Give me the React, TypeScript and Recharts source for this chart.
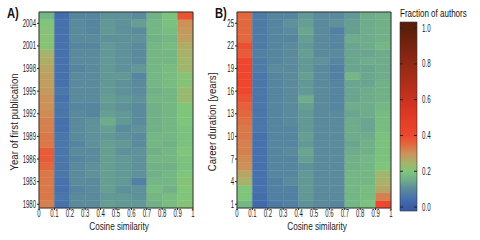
import { ScatterChart, Scatter, XAxis, YAxis, ReferenceArea, ReferenceLine, Label } from "recharts";

const FONT = "'Liberation Sans', Arial, sans-serif";

// similarity bins (left edges) and tick labels
const simBins = [0, 0.1, 0.2, 0.3, 0.4, 0.5, 0.6, 0.7, 0.8, 0.9];
const simTicks = [0, 0.1, 0.2, 0.3, 0.4, 0.5, 0.6, 0.7, 0.8, 0.9, 1];

// panel A: year of first publication, rows bottom -> top
const pubYears = [1980, 1981, 1982, 1983, 1984, 1985, 1986, 1987, 1988, 1989, 1990, 1991, 1992,
  1993, 1994, 1995, 1996, 1997, 1998, 1999, 2000, 2001, 2002, 2003, 2004, 2005];
const pubYearTicks = [1980, 1983, 1986, 1989, 1992, 1995, 1998, 2001, 2004];
const pubYearRows = [
  [0.32, 0.05, 0.10, 0.10, 0.13, 0.12, 0.12, 0.16, 0.18, 0.21],
  [0.33, 0.06, 0.10, 0.10, 0.12, 0.12, 0.11, 0.17, 0.18, 0.20],
  [0.33, 0.05, 0.09, 0.10, 0.13, 0.11, 0.11, 0.18, 0.16, 0.20],
  [0.33, 0.05, 0.10, 0.10, 0.13, 0.12, 0.08, 0.17, 0.17, 0.21],
  [0.33, 0.06, 0.10, 0.11, 0.13, 0.12, 0.11, 0.16, 0.17, 0.20],
  [0.35, 0.06, 0.10, 0.11, 0.13, 0.12, 0.11, 0.16, 0.16, 0.19],
  [0.37, 0.06, 0.09, 0.10, 0.13, 0.12, 0.11, 0.17, 0.17, 0.19],
  [0.37, 0.06, 0.10, 0.10, 0.13, 0.11, 0.11, 0.16, 0.17, 0.20],
  [0.33, 0.06, 0.09, 0.11, 0.13, 0.12, 0.10, 0.17, 0.16, 0.19],
  [0.33, 0.06, 0.10, 0.11, 0.12, 0.11, 0.10, 0.17, 0.17, 0.19],
  [0.32, 0.05, 0.10, 0.11, 0.13, 0.10, 0.11, 0.16, 0.17, 0.19],
  [0.32, 0.05, 0.10, 0.11, 0.15, 0.12, 0.10, 0.16, 0.17, 0.20],
  [0.31, 0.06, 0.10, 0.09, 0.13, 0.12, 0.10, 0.16, 0.17, 0.20],
  [0.30, 0.06, 0.09, 0.09, 0.12, 0.11, 0.10, 0.16, 0.17, 0.20],
  [0.30, 0.05, 0.10, 0.10, 0.13, 0.12, 0.11, 0.17, 0.17, 0.23],
  [0.29, 0.06, 0.10, 0.10, 0.12, 0.11, 0.10, 0.16, 0.17, 0.23],
  [0.28, 0.05, 0.10, 0.10, 0.12, 0.11, 0.10, 0.17, 0.18, 0.21],
  [0.28, 0.05, 0.10, 0.10, 0.12, 0.12, 0.09, 0.17, 0.18, 0.21],
  [0.27, 0.05, 0.09, 0.10, 0.12, 0.11, 0.12, 0.17, 0.18, 0.24],
  [0.26, 0.05, 0.10, 0.10, 0.12, 0.11, 0.10, 0.17, 0.17, 0.24],
  [0.25, 0.05, 0.10, 0.10, 0.12, 0.11, 0.10, 0.17, 0.17, 0.25],
  [0.21, 0.05, 0.09, 0.09, 0.12, 0.11, 0.10, 0.17, 0.18, 0.26],
  [0.21, 0.05, 0.10, 0.10, 0.11, 0.11, 0.11, 0.16, 0.17, 0.28],
  [0.21, 0.05, 0.10, 0.09, 0.12, 0.11, 0.10, 0.17, 0.18, 0.29],
  [0.20, 0.05, 0.10, 0.09, 0.12, 0.11, 0.13, 0.17, 0.19, 0.30],
  [0.17, 0.04, 0.09, 0.09, 0.11, 0.11, 0.10, 0.16, 0.19, 0.38],
];

// panel B: career duration, rows bottom -> top
const careerYears = [1, 2, 3, 4, 5, 6, 7, 8, 9, 10, 11, 12, 13, 14, 15, 16, 17, 18, 19, 20, 21, 22, 23, 24, 25, 26];
const careerTicks = [1, 4, 7, 10, 13, 16, 19, 22, 25];
const careerRows = [
  [0.17, 0.03, 0.07, 0.08, 0.11, 0.10, 0.09, 0.17, 0.19, 0.40],
  [0.20, 0.04, 0.08, 0.08, 0.12, 0.10, 0.10, 0.17, 0.18, 0.32],
  [0.20, 0.05, 0.08, 0.08, 0.12, 0.10, 0.10, 0.17, 0.18, 0.27],
  [0.25, 0.05, 0.08, 0.10, 0.12, 0.10, 0.10, 0.17, 0.17, 0.25],
  [0.27, 0.05, 0.09, 0.09, 0.12, 0.10, 0.10, 0.17, 0.17, 0.24],
  [0.30, 0.05, 0.09, 0.09, 0.11, 0.10, 0.10, 0.16, 0.17, 0.20],
  [0.31, 0.05, 0.09, 0.09, 0.13, 0.10, 0.10, 0.16, 0.17, 0.19],
  [0.32, 0.05, 0.09, 0.10, 0.14, 0.10, 0.10, 0.15, 0.16, 0.19],
  [0.32, 0.05, 0.09, 0.09, 0.12, 0.10, 0.10, 0.14, 0.16, 0.19],
  [0.33, 0.05, 0.09, 0.09, 0.13, 0.10, 0.10, 0.15, 0.15, 0.19],
  [0.33, 0.06, 0.09, 0.09, 0.12, 0.10, 0.10, 0.15, 0.14, 0.18],
  [0.34, 0.06, 0.09, 0.10, 0.12, 0.10, 0.10, 0.15, 0.14, 0.18],
  [0.35, 0.06, 0.09, 0.10, 0.12, 0.10, 0.10, 0.14, 0.15, 0.18],
  [0.36, 0.06, 0.09, 0.10, 0.13, 0.10, 0.09, 0.15, 0.15, 0.17],
  [0.38, 0.06, 0.09, 0.10, 0.15, 0.10, 0.09, 0.14, 0.15, 0.16],
  [0.40, 0.06, 0.09, 0.10, 0.12, 0.10, 0.09, 0.14, 0.15, 0.16],
  [0.40, 0.06, 0.09, 0.10, 0.12, 0.10, 0.09, 0.14, 0.14, 0.16],
  [0.41, 0.06, 0.09, 0.10, 0.13, 0.10, 0.08, 0.17, 0.14, 0.15],
  [0.41, 0.07, 0.10, 0.10, 0.12, 0.10, 0.08, 0.14, 0.14, 0.15],
  [0.40, 0.07, 0.09, 0.10, 0.12, 0.11, 0.09, 0.14, 0.15, 0.15],
  [0.37, 0.08, 0.09, 0.10, 0.13, 0.10, 0.10, 0.14, 0.14, 0.15],
  [0.39, 0.07, 0.09, 0.10, 0.12, 0.10, 0.09, 0.14, 0.15, 0.17],
  [0.35, 0.07, 0.09, 0.09, 0.13, 0.10, 0.09, 0.15, 0.15, 0.16],
  [0.35, 0.07, 0.09, 0.10, 0.14, 0.10, 0.08, 0.13, 0.15, 0.16],
  [0.35, 0.07, 0.09, 0.11, 0.13, 0.10, 0.11, 0.13, 0.15, 0.16],
  [0.35, 0.07, 0.09, 0.09, 0.12, 0.10, 0.10, 0.12, 0.15, 0.16],
];

const barTicks = [0, 0.2, 0.4, 0.6, 0.8, 1];

// colour map: value -> colour
const COLOR_STOPS: [number, string][] = [
  [0, "#3a5ca8"], [0.05, "#4671ad"], [0.1, "#5a8a9c"], [0.15, "#6eac8c"], [0.2, "#80c67a"],
  [0.25, "#a8b26a"], [0.3, "#cc925a"], [0.35, "#e2683e"], [0.4, "#ee472e"], [0.5, "#e23b27"],
  [0.6, "#c9321f"], [0.8, "#932915"], [1, "#5a1e09"],
];

function hex(c: string) {
  return [1, 3, 5].map((i) => parseInt(c.slice(i, i + 2), 16));
}

function colorFor(v: number) {
  if (v <= COLOR_STOPS[0][0]) return COLOR_STOPS[0][1];
  for (let i = 1; i < COLOR_STOPS.length; i++) {
    const [v1, c1] = COLOR_STOPS[i];
    if (v <= v1) {
      const [v0, c0] = COLOR_STOPS[i - 1];
      const t = (v - v0) / (v1 - v0);
      const a = hex(c0), b = hex(c1);
      return `rgb(${a.map((x, k) => Math.round(x + (b[k] - x) * t)).join(",")})`;
    }
  }
  return COLOR_STOPS[COLOR_STOPS.length - 1][1];
}

// condensed text: the original uses a narrow face, so squeeze horizontally
function NarrowText({ x, y, anchor, dy, size, sx, rotate, children }: any) {
  return (
    <g transform={`translate(${x},${y})${rotate ? ` rotate(${rotate})` : ""}`}>
      <text transform={`scale(${sx},1)`} textAnchor={anchor} dy={dy} fontSize={size} fill="#1a1a1a" fontFamily={FONT}>
        {children}
      </text>
    </g>
  );
}

const fmtSim = (v: number) => (v === 0 || v === 1 ? String(v) : v.toFixed(1));

const XTick = (p: any) => (
  <NarrowText x={p.x} y={p.y} anchor="middle" dy="0.71em" size={10} sx={0.6}>{fmtSim(p.payload.value)}</NarrowText>
);
const YTick = (p: any) => (
  <NarrowText x={p.x} y={p.y} anchor="end" dy="0.355em" size={10} sx={0.6}>{p.payload.value}</NarrowText>
);
const BarTick = (p: any) => (
  <NarrowText x={p.x} y={p.y} anchor="start" dy="0.355em" size={10} sx={0.62}>{p.payload.value.toFixed(1)}</NarrowText>
);

const yLabel = (text: string) => (props: any) => {
  const vb = props.viewBox;
  return (
    <NarrowText x={vb.x + 14} y={vb.y + vb.height / 2 + 12} rotate={-90} anchor="middle" dy="0.35em" size={10.5} sx={0.92}>
      {text}
    </NarrowText>
  );
};

const xLabel = (text: string) => (props: any) => {
  const vb = props.viewBox;
  return (
    <NarrowText x={vb.x + vb.width / 2 + 3} y={vb.y + 18} anchor="middle" dy="0.35em" size={10.5} sx={0.78}>
      {text}
    </NarrowText>
  );
};

function Heatmap({ rows, yValues, yTicks, yTitle }: { rows: number[][]; yValues: number[]; yTicks: number[]; yTitle: string }) {
  const cells = rows.flatMap((r, i) => r.map((v, j) => ({ x: simBins[j] + 0.05, y: yValues[i], v, j })));
  const yMin = yValues[0] - 0.5;
  const yMax = yValues[yValues.length - 1] + 0.5;
  return (
    <ScatterChart width={200} height={240} margin={{ top: 12, right: 7, bottom: 0, left: 0 }}>
      <XAxis type="number" dataKey="x" domain={[0, 1]} ticks={simTicks} interval={0}
        tick={<XTick />} tickSize={2} tickMargin={0} height={32} axisLine={false} stroke="#222">
        <Label content={xLabel("Cosine similarity")} />
      </XAxis>
      <YAxis type="number" dataKey="y" domain={[yMin, yMax]} ticks={yTicks} interval={0}
        tick={<YTick />} tickSize={2} tickMargin={1} width={39} axisLine={false} stroke="#222">
        <Label content={yLabel(yTitle)} />
      </YAxis>
      {cells.map((c, k) => (
        <ReferenceArea key={k} x1={simBins[c.j]} x2={simBins[c.j] + 0.1} y1={c.y - 0.5} y2={c.y + 0.5}
          fill={colorFor(c.v)} fillOpacity={1} stroke={colorFor(c.v)} strokeWidth={0.4} ifOverflow="visible" />
      ))}
      <ReferenceArea x1={0} x2={1} y1={yMin} y2={yMax} fill="none" stroke="#333" strokeWidth={1} ifOverflow="visible" />
      <Scatter data={cells} isAnimationActive={false} shape={() => <g />} legendType="none" />
    </ScatterChart>
  );
}

const barLo = -0.022;
const barHi = 1.034;

function ColorBar() {
  return (
    <ScatterChart width={100} height={240} margin={{ top: 22, right: 0, bottom: 29, left: 20 }}>
      <defs>
        <linearGradient id="fracGrad" x1="0" y1="1" x2="0" y2="0">
          {COLOR_STOPS.map(([v, c]) => (
            <stop key={v} offset={(v - barLo) / (barHi - barLo)} stopColor={c} />
          ))}
        </linearGradient>
      </defs>
      <XAxis type="number" dataKey="x" domain={[0, 1]} hide />
      <YAxis type="number" dataKey="y" orientation="right" domain={[barLo, barHi]} ticks={barTicks} interval={0}
        tick={<BarTick />} tickLine={false} tickSize={3} tickMargin={2} axisLine={false} width={63} />
      <ReferenceArea x1={0} x2={1} y1={barLo} y2={barHi} fill="url(#fracGrad)" fillOpacity={1}
        stroke="#333" strokeWidth={0.6} ifOverflow="visible" />
      {barTicks.map((t) => (
        <ReferenceLine key={t} y={t} stroke="#222" strokeWidth={1} strokeDasharray="3 11" />
      ))}
      <Scatter data={[{ x: 0.5, y: 0.5 }]} isAnimationActive={false} shape={() => <g />} legendType="none" />
    </ScatterChart>
  );
}

const panelTag = { position: "absolute" as const, top: 5, fontSize: 14, fontWeight: 700, color: "#111", lineHeight: "16px", transform: "scaleX(0.8)", transformOrigin: "left top" };

export default function App() {
  return (
    <div style={{ position: "absolute", left: 0, top: 0, width: 480, height: 240, background: "#fff", fontFamily: FONT }}>
      <div style={{ position: "absolute", left: 0, top: 0 }}>
        <Heatmap rows={pubYearRows} yValues={pubYears} yTicks={pubYearTicks} yTitle="Year of first publication" />
      </div>
      <div style={{ position: "absolute", left: 198, top: 0 }}>
        <Heatmap rows={careerRows} yValues={careerYears} yTicks={careerTicks} yTitle="Career duration [years]" />
      </div>
      <div style={{ position: "absolute", left: 380, top: 0 }}>
        <ColorBar />
      </div>
      <div style={{ ...panelTag, left: 7 }}>A)</div>
      <div style={{ ...panelTag, left: 215 }}>B)</div>
      <div style={{ position: "absolute", left: 400, top: 8, fontSize: 10, color: "#111", lineHeight: "11px", whiteSpace: "nowrap", transform: "scaleX(0.8)", transformOrigin: "left top" }}>Fraction of authors</div>
    </div>
  );
}
